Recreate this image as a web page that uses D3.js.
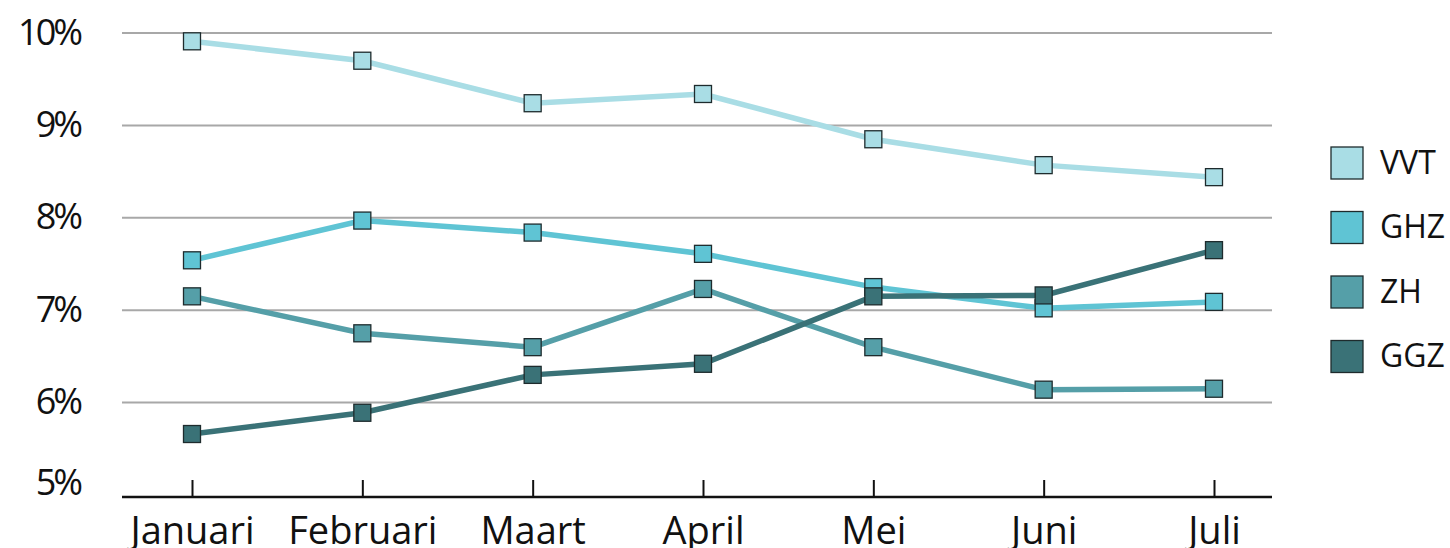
<!DOCTYPE html>
<html>
<head>
<meta charset="utf-8">
<script src="https://cdn.jsdelivr.net/npm/d3@7"></script>
<style>
  html, body { margin: 0; padding: 0; background: #fff; }
  svg { display: block; font-family: "Open Sans", sans-serif; }
</style>
</head>
<body>
<svg id="chart" width="1450" height="548"></svg>
<script>
// Maandelijkse percentages per sector
const months = ["Januari", "Februari", "Maart", "April", "Mei", "Juni", "Juli"];
const seriesNames = ["VVT", "GHZ", "ZH", "GGZ"];
const vvt = [9.91, 9.70, 9.24, 9.34, 8.85, 8.57, 8.44];
const ghz = [7.54, 7.97, 7.84, 7.61, 7.25, 7.02, 7.09];
const zh  = [7.15, 6.75, 6.60, 7.23, 6.60, 6.14, 6.15];
const ggz = [5.66, 5.89, 6.30, 6.42, 7.15, 7.16, 7.65];
const yTicks = [5, 6, 7, 8, 9, 10];
const colors = ["#a9dde5", "#5fc4d4", "#559fa8", "#3a7277"];

const series = seriesNames.map((name, i) => ({
  name,
  color: colors[i],
  values: [vvt, ghz, zh, ggz][i]
}));

const svg = d3.select("#chart");
const plotLeft = 122, plotRight = 1272, plotTop = 33, plotBottom = 495;

const x = d3.scalePoint().domain(months).range([192, 1214]);
const y = d3.scaleLinear().domain([5, 10]).range([plotBottom, plotTop]);

// horizontal gridlines
svg.append("g")
  .selectAll("line")
  .data(yTicks.filter(t => t > 5))
  .join("line")
  .attr("x1", plotLeft).attr("x2", plotRight)
  .attr("y1", d => y(d)).attr("y2", d => y(d))
  .attr("stroke", "#a8a8a8").attr("stroke-width", 2);

// y tick labels
svg.append("g")
  .selectAll("text")
  .data(yTicks)
  .join("text")
  .attr("x", 80)
  .attr("y", d => y(d) + (d === 5 ? -10 : 2))
  .attr("text-anchor", "end")
  .attr("dominant-baseline", "middle")
  .attr("font-size", 36)
  .attr("letter-spacing", -3)
  .attr("fill", "#111")
  .text(d => d + "%");

// bottom axis with inward ticks
const xAxis = d3.axisBottom(x).tickSizeInner(-17).tickSizeOuter(0).tickPadding(20);
const gx = svg.append("g")
  .attr("transform", `translate(0,${plotBottom + 2})`)
  .call(xAxis);
gx.select(".domain").attr("stroke", "#111").attr("stroke-width", 2.5)
  .attr("d", `M${plotLeft},0H${plotRight}`);
gx.selectAll(".tick line").attr("stroke", "#111").attr("stroke-width", 2);
gx.selectAll(".tick text")
  .attr("font-family", "Open Sans, sans-serif")
  .attr("font-size", 38)
  .attr("fill", "#111");

const line = d3.line()
  .x((d, i) => x(months[i]))
  .y(d => y(d));

const ms = 17;
series.forEach(s => {
  const g = svg.append("g");
  g.append("path")
    .attr("d", line(s.values))
    .attr("fill", "none")
    .attr("stroke", s.color)
    .attr("stroke-width", 5.5);
  g.selectAll("rect")
    .data(s.values)
    .join("rect")
    .attr("x", (d, i) => x(months[i]) - ms / 2)
    .attr("y", d => y(d) - ms / 2)
    .attr("width", ms).attr("height", ms)
    .attr("fill", s.color)
    .attr("stroke", "#1e2b2d")
    .attr("stroke-width", 1.3);
});

// legend
const legend = svg.append("g")
  .selectAll("g")
  .data(series)
  .join("g")
  .attr("transform", (d, i) => `translate(1331,${147 + i * 64.5})`);
legend.append("rect")
  .attr("width", 32).attr("height", 32)
  .attr("fill", d => d.color)
  .attr("stroke", "#1e2b2d").attr("stroke-width", 1.3);
legend.append("text")
  .attr("x", 49).attr("y", 18)
  .attr("dominant-baseline", "middle")
  .attr("font-size", 32)
  .attr("fill", "#111")
  .text(d => d.name);
</script>
</body>
</html>
